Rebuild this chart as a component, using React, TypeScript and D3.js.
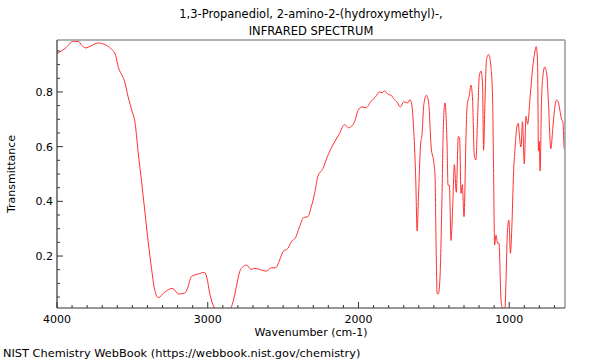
import React from "react";
import * as d3 from "d3";

const titleLines = ["1,3-Propanediol, 2-amino-2-(hydroxymethyl)-,", "INFRARED SPECTRUM"];
const xTicks = [4000, 3000, 2000, 1000];
const yTicks = [0.2, 0.4, 0.6, 0.8];

// wavenumber (cm-1)
const wavenumbers = [
  4000, 3947, 3892, 3859, 3836, 3808, 3781, 3726, 3682, 3638, 3611, 3594, 3572, 3554, 3528, 3501,
  3483, 3462, 3439, 3417, 3395, 3373, 3356, 3329, 3285, 3236, 3192, 3152, 3134, 3108, 3064, 3020,
  3005, 2987, 2965, 2942, 2900, 2854, 2832, 2810, 2788, 2766, 2744, 2711, 2689, 2656, 2611, 2578,
  2550, 2523, 2501, 2468, 2446, 2417, 2391, 2364, 2336, 2313, 2291, 2270, 2236, 2207, 2170, 2126,
  2093, 2066, 2026, 2004, 1978, 1949, 1920, 1887, 1861, 1843, 1828, 1806, 1784, 1762, 1746, 1722,
  1700, 1673, 1659, 1647, 1633, 1620, 1611, 1602, 1589, 1578, 1567, 1549, 1534, 1518, 1501, 1492,
  1485, 1478, 1470, 1459, 1446, 1437, 1426, 1412, 1406, 1397, 1386, 1375, 1364, 1351, 1338, 1329,
  1320, 1311, 1300, 1287, 1280, 1265, 1254, 1243, 1232, 1221, 1210, 1198, 1187, 1177, 1170, 1161,
  1150, 1137, 1121, 1110, 1104, 1097, 1088, 1077, 1068, 1055, 1048, 1037, 1028, 1022, 1011, 1002,
  992, 983, 971, 960, 949, 940, 932, 922, 912, 900, 889, 878, 861, 845, 830, 821,
  812, 806, 801, 795, 786, 775, 765, 750, 740, 724, 711, 700, 687, 675, 664, 653,
  644, 635, 630,
];

const transmittance = [
  0.94, 0.959, 0.985, 0.985, 0.971, 0.961, 0.967, 0.979, 0.973, 0.956, 0.934, 0.892, 0.864, 0.843, 0.782, 0.727,
  0.691, 0.581, 0.472, 0.362, 0.252, 0.155, 0.088, 0.048, 0.068, 0.082, 0.061, 0.065, 0.082, 0.125, 0.134, 0.14,
  0.119, 0.064, 0.021, 0.005, 0.0, 0.005, 0.033, 0.088, 0.143, 0.161, 0.167, 0.151, 0.155, 0.151, 0.145, 0.157,
  0.157, 0.186, 0.216, 0.228, 0.252, 0.268, 0.307, 0.341, 0.344, 0.38, 0.429, 0.49, 0.52, 0.563, 0.606, 0.648,
  0.681, 0.669, 0.691, 0.731, 0.745, 0.742, 0.764, 0.782, 0.8, 0.797, 0.804, 0.792, 0.788, 0.772, 0.764, 0.745,
  0.764, 0.76, 0.772, 0.755, 0.655, 0.478, 0.292, 0.417, 0.599, 0.648, 0.752, 0.788, 0.758, 0.599, 0.545, 0.49,
  0.234, 0.062, 0.062, 0.125, 0.417, 0.672, 0.76, 0.599, 0.459, 0.459, 0.257, 0.38, 0.534, 0.433, 0.637, 0.632,
  0.429, 0.461, 0.344, 0.63, 0.745, 0.788, 0.825, 0.77, 0.569, 0.551, 0.703, 0.861, 0.876, 0.825, 0.587, 0.764,
  0.922, 0.937, 0.891, 0.764, 0.52, 0.24, 0.277, 0.247, 0.247, 0.046, 0.015, 0.005, 0.01, 0.1, 0.3, 0.332,
  0.21, 0.3, 0.508, 0.606, 0.672, 0.685, 0.636, 0.599, 0.691, 0.537, 0.711, 0.682, 0.785, 0.886, 0.946, 0.966,
  0.91, 0.584, 0.62, 0.511, 0.764, 0.865, 0.891, 0.862, 0.764, 0.592, 0.666, 0.733, 0.77, 0.764, 0.733, 0.7,
  0.691, 0.594, 0.59,
];

const W = 600;
const H = 360;
const left = 57;
const right = 565;
const top = 40;
const bottom = 308;
const font = "DejaVu Sans, sans-serif";

export default function App() {
  const x = d3.scaleLinear().domain([4000, 630]).range([left, right]);
  const y = d3.scaleLinear().domain([0.01, 0.99]).range([bottom, top]);

  const points = wavenumbers.map((w, i) => [w, transmittance[i]] as [number, number]);
  const line = d3
    .line<[number, number]>()
    .x((d) => x(d[0]))
    .y((d) => y(d[1]))
    .curve(d3.curveMonotoneX);

  const xMinor = d3.range(4000, 629, -100);
  const yMinor = d3.range(0.05, 0.99, 0.05);

  return (
    <svg
      width={W}
      height={H}
      style={{ position: "absolute", left: 0, top: 0, background: "#fff" }}
      fontFamily={font}
    >
      <defs>
        <clipPath id="plot">
          <rect x={left} y={top} width={right - left} height={bottom - top} />
        </clipPath>
      </defs>

      {titleLines.map((t, i) => (
        <text key={t} x={(left + right) / 2} y={18 + i * 17} textAnchor="middle" fontSize={11.5} fill="#000">
          {t}
        </text>
      ))}

      <path
        d={line(points) || ""}
        fill="none"
        stroke="#ff3030"
        strokeWidth={1}
        clipPath="url(#plot)"
      />

      {/* frame: top/right light, left/bottom dark */}
      <line x1={left} x2={right} y1={top} y2={top} stroke="#999" strokeWidth={1.5} />
      <line x1={right} x2={right} y1={top} y2={bottom} stroke="#999" strokeWidth={1.5} />
      <line x1={left} x2={left} y1={top} y2={bottom} stroke="#333" strokeWidth={1.2} />
      <line x1={left} x2={right} y1={bottom} y2={bottom} stroke="#333" strokeWidth={1.2} />

      {xMinor.map((t) => (
        <line key={"xm" + t} x1={x(t)} x2={x(t)} y1={bottom} y2={bottom - (t % 1000 === 0 ? 6 : 3)} stroke="#333" />
      ))}
      {yMinor.map((t) => {
        const major = Math.abs(t * 5 - Math.round(t * 5)) < 1e-6;
        return <line key={"ym" + t} x1={left} x2={left + (major ? 6 : 3)} y1={y(t)} y2={y(t)} stroke="#333" />;
      })}

      {xTicks.map((t) => (
        <text key={"xl" + t} x={x(t)} y={bottom + 15} textAnchor="middle" fontSize={11} fill="#000">
          {t}
        </text>
      ))}
      {yTicks.map((t) => (
        <text key={"yl" + t} x={left - 4} y={y(t) + 4} textAnchor="end" fontSize={11} fill="#000">
          {t.toFixed(1)}
        </text>
      ))}

      <text x={(left + right) / 2} y={336} textAnchor="middle" fontSize={11} fill="#000">
        Wavenumber (cm-1)
      </text>
      <text
        transform={`translate(15,${(top + bottom) / 2}) rotate(-90)`}
        textAnchor="middle"
        fontSize={11}
        fill="#000"
      >
        Transmittance
      </text>
      <text x={3} y={357} fontSize={11.35} fill="#000">
        NIST Chemistry WebBook (https://webbook.nist.gov/chemistry)
      </text>
    </svg>
  );
}
